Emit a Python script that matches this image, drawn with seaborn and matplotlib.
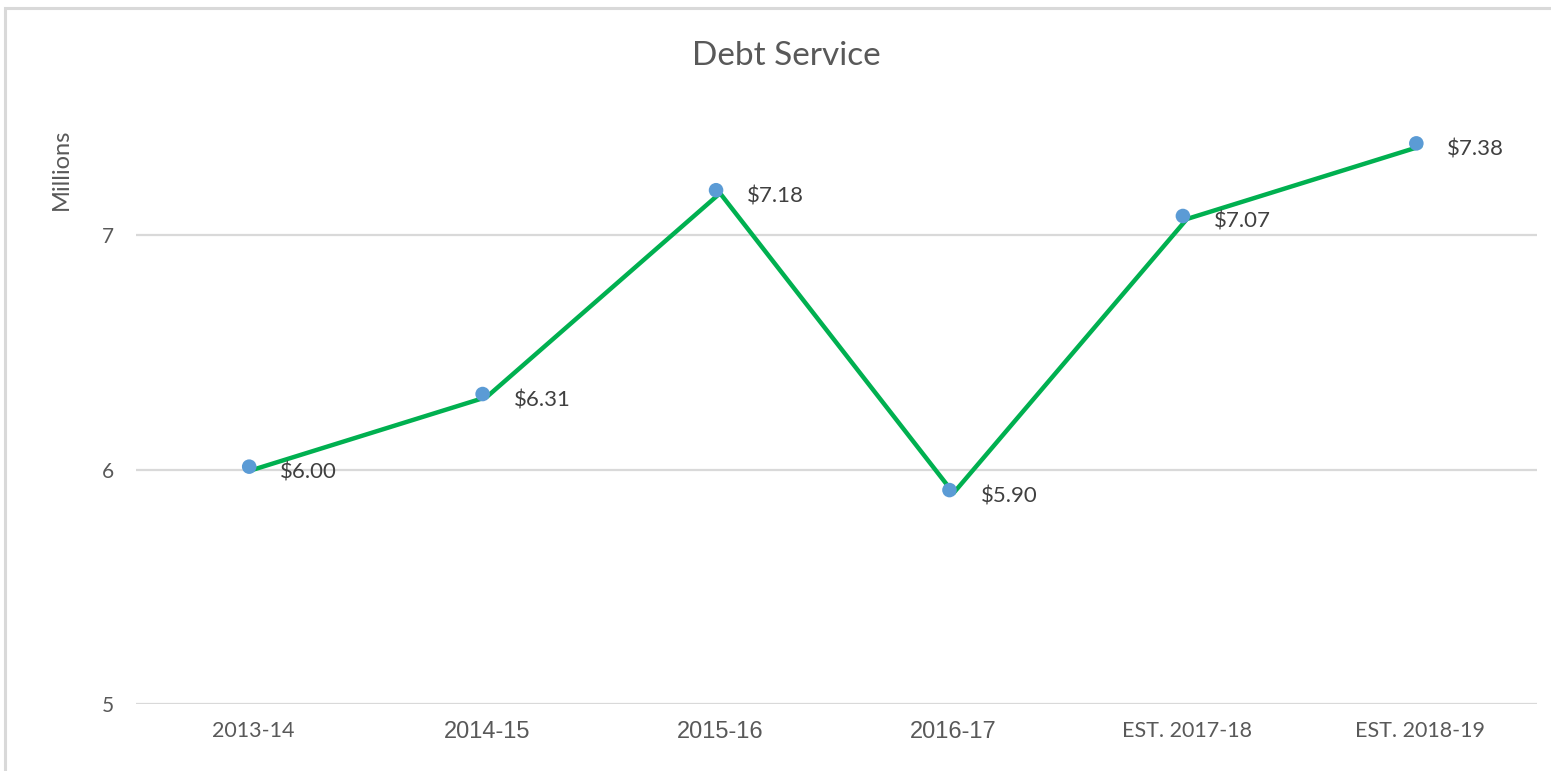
import matplotlib
matplotlib.use("Agg")

import matplotlib.pyplot as plt
import matplotlib.transforms as mtransforms
from matplotlib.patches import Rectangle
import pandas as pd
import seaborn as sns

# --- data ---
YEARS  = ["2013-14", "2014-15", "2015-16", "2016-17", "EST. 2017-18", "EST. 2018-19"]
DEBT   = [6.00, 6.31, 7.18, 5.90, 7.07, 7.38]
YTICKS = [5, 6, 7]

GREEN = "#00b050"
BLUE  = "#5b9bd5"
TEXT  = "#595959"
GRID  = "#d9d9d9"

sns.set_theme(style="white")
plt.rcParams["font.family"] = ["Lato", "DejaVu Sans"]

df = pd.DataFrame({"year": YEARS, "debt": DEBT})

fig = plt.figure(figsize=(15.51, 7.71), dpi=100)
ax = fig.add_axes([0.088, 0.087, 0.903, 0.79])

sns.lineplot(data=df, x="year", y="debt", color=GREEN, linewidth=3.2,
             sort=False, ax=ax, zorder=3)
# markers sit a touch up-left of the line vertices, like the source
shift = mtransforms.ScaledTranslation(-4 / 100, 3 / 100, fig.dpi_scale_trans)
sns.scatterplot(data=df, x="year", y="debt", color=BLUE, s=110,
                edgecolor="none", ax=ax, zorder=4,
                transform=ax.transData + shift)

for i, v in enumerate(DEBT):
    ax.annotate(f"\\${v:.2f}", (i, v), xytext=(27, -3), textcoords="offset pixels",
                ha="left", va="center", fontsize=16, color="#404040")

ax.set_xlim(-0.5, len(YEARS) - 0.5)
ax.set_ylim(5, 7.6)
ax.set_yticks(YTICKS)
ax.set_yticklabels([str(t) for t in YTICKS])
ax.yaxis.grid(True, color=GRID, linewidth=1.6)
ax.set_axisbelow(True)
for s in ax.spines.values():
    s.set_visible(False)
ax.tick_params(axis="y", length=0, pad=16, labelsize=15, labelcolor=TEXT)
ax.tick_params(axis="x", length=0, pad=12, labelcolor=TEXT)

# the source mixes two label fonts on the category axis
fams  = ["Lato", "Liberation Sans", "Liberation Sans", "Liberation Sans", "Lato", "Lato"]
sizes = [15.5, 17, 17, 17, 15.5, 15.5]
for lab, fam, fs in zip(ax.get_xticklabels(), fams, sizes):
    lab.set_family([fam, "DejaVu Sans"])
    lab.set_fontsize(fs)

ax.set_xlabel("")
ax.set_ylabel("Millions", fontsize=17, color=TEXT)
ax.yaxis.set_label_coords(-0.046, 0.878)

fig.text(0.507, 0.927, "Debt Service", ha="center", va="center",
         fontsize=24, color=TEXT)

# chart-area border (cropped on right and bottom in the source)
fig.patches.append(Rectangle((5 / 1551, -0.1), 1.2, 0.1 + 1 - 8 / 771,
                             transform=fig.transFigure, fill=False,
                             edgecolor=GRID, linewidth=2.2))

fig.savefig("out.png", dpi=100, facecolor="white")
